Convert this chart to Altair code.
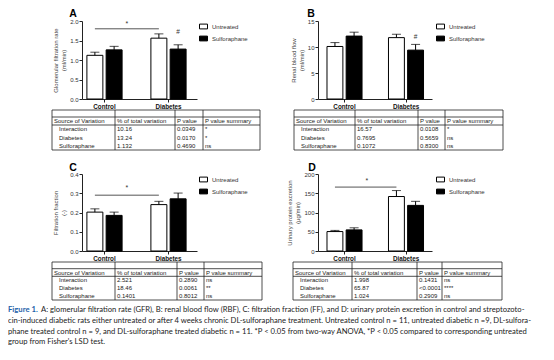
import altair as alt
import pandas as pd

# ---------------- data ----------------
groups = ["Control", "Diabetes"]
treatments = ["Untreated", "Sulforaphane"]

# order: Control-Untreated, Control-Sulforaphane, Diabetes-Untreated, Diabetes-Sulforaphane
gfr_mean = [1.12, 1.26, 1.56, 1.28]
gfr_sem = [0.08, 0.09, 0.11, 0.11]
rbf_mean = [10.1, 12.1, 11.8, 9.4]
rbf_sem = [0.75, 0.75, 0.65, 1.1]
ff_mean = [0.202, 0.185, 0.241, 0.271]
ff_sem = [0.017, 0.017, 0.017, 0.030]
upe_mean = [50.5, 54.8, 141.5, 118.5]
upe_sem = [3.0, 5.5, 15.5, 10.5]

headers = ["Source of Variation", "% of total variation", "P value", "P value summary"]
sources = ["Interaction", "Diabetes", "Sulforaphane"]
a_pct = ["10.16", "13.24", "1.132"]
a_p = ["0.0349", "0.0170", "0.4690"]
a_sum = ["*", "*", "ns"]
b_pct = ["16.57", "0.7695", "0.1072"]
b_p = ["0.0108", "0.5659", "0.8300"]
b_sum = ["*", "ns", "ns"]
c_pct = ["2.521", "18.46", "0.1401"]
c_p = ["0.2890", "0.0061", "0.8012"]
c_sum = ["ns", "**", "ns"]
d_pct = ["1.998", "65.87", "1.024"]
d_p = ["0.1431", "<0.0001", "0.2909"]
d_sum = ["ns", "****", "ns"]

caption_lines = [
    "A: glomerular filtration rate (GFR), B: renal blood flow (RBF), C: filtration fraction (FF), and D: urinary protein excretion in control and streptozoto-",
    "cin-induced diabetic rats either untreated or after 4 weeks chronic DL-sulforaphane treatment. Untreated control n = 11, untreated diabetic n =9, DL-sulfora-",
    "phane treated control n = 9, and DL-sulforaphane treated diabetic n = 11. *P < 0.05 from two-way ANOVA, *P < 0.05 compared to corresponding untreated",
    "group from Fisher's LSD test.",
]

# ---------------- layout ----------------
W, H = 538, 344
M = 8
FONT = "Liberation Sans"
CAPFONT = "Lato"


def P(v):
    return v - M


LAY_AC = dict(x0=82, x1=197, pI=0.45, pO=0.1234, al=0.31)
LAY_BD = dict(x0=318, x1=432, pI=0.43, pO=0.142, al=0.515)
ROW1 = dict(yt=21, yb=99)
ROW2 = dict(yt=174, yb=251)


def make_df(means, sems):
    rows = []
    i = 0
    for g in groups:
        for t in treatments:
            rows.append({"group": g, "treat": t, "mean": means[i], "upper": means[i] + sems[i]})
            i += 1
    return pd.DataFrame(rows)


def panel(means, sems, ytitle, ydomain, yticks, yfmt, lx, ly, legxy,
          sig=None, star=None, hash_y=None):
    df = make_df(means, sems)
    xsc = alt.Scale(domain=groups, range=[P(lx["x0"]), P(lx["x1"])],
                    paddingInner=lx["pI"], paddingOuter=lx["pO"], align=lx["al"])
    ysc = alt.Scale(domain=ydomain, range=[P(ly["yb"]), P(ly["yt"])], nice=False, zero=True)
    xax = alt.Axis(orient="bottom", offset=P(ly["yb"]) - H, title=None, labelAngle=0,
                   labelFontWeight="bold", labelFontSize=6.3, labelColor="#111",
                   labelFont=FONT, tickSize=3, labelPadding=1, domainColor="#222",
                   tickColor="#222", grid=False)
    yax = alt.Axis(orient="left", offset=-P(lx["x0"]), title=ytitle, values=yticks,
                   format=yfmt, labelFontSize=6, labelColor="#333", labelFont=FONT,
                   titleFont=FONT, titleFontSize=6, titleFontWeight="normal",
                   titleColor="#444", titlePadding=3, labelPadding=1, tickSize=3,
                   domainColor="#222", tickColor="#222", grid=False)
    X = alt.X("group:N", scale=xsc, sort=groups, axis=xax)
    XO = alt.XOffset("treat:N", sort=treatments,
                     scale=alt.Scale(domain=treatments, paddingInner=0.17, paddingOuter=0))
    base = alt.Chart(df)
    bars = base.mark_bar(stroke="black", strokeWidth=1).encode(
        x=X, xOffset=XO,
        y=alt.Y("mean:Q", scale=ysc, axis=yax),
        fill=alt.Fill("treat:N", sort=treatments,
                      scale=alt.Scale(domain=treatments, range=["white", "black"]),
                      legend=alt.Legend(orient="none", legendX=P(legxy[0]), legendY=P(legxy[1]),
                                        title=None, symbolType="M-1,-0.6H1V0.6H-1Z",
                                        symbolSize=64, symbolStrokeColor="black",
                                        symbolStrokeWidth=1, labelFont=FONT,
                                        labelFontSize=6, labelColor="#333",
                                        rowPadding=3, labelOffset=4)),
    )
    err = base.mark_rule(color="black", strokeWidth=1).encode(
        x=X, xOffset=XO, y=alt.Y("mean:Q", scale=ysc, axis=yax), y2="upper:Q")
    cap = base.mark_tick(orient="horizontal", color="black", size=9, thickness=1).encode(
        x=X, xOffset=XO, y=alt.Y("upper:Q", scale=ysc, axis=yax))
    layers = [bars, err, cap]
    if sig is not None:
        sdf = pd.DataFrame({"group": groups, "treat": ["Untreated", "Untreated"],
                            "y": [sig, sig]})
        layers.append(alt.Chart(sdf).mark_line(color="#555", strokeWidth=1).encode(
            x=X, xOffset=XO, y=alt.Y("y:Q", scale=ysc, axis=yax)))
        tdf = pd.DataFrame({"group": ["Control"], "treat": ["Untreated"], "y": [star], "s": ["*"]})
        layers.append(alt.Chart(tdf).mark_text(font=FONT, fontSize=7, color="#333", dx=32).encode(
            x=X, xOffset=XO, y=alt.Y("y:Q", scale=ysc, axis=yax), text="s:N"))
    if hash_y is not None:
        hdf = pd.DataFrame({"group": ["Diabetes"], "treat": ["Sulforaphane"], "y": [hash_y], "s": ["#"]})
        layers.append(alt.Chart(hdf).mark_text(font=FONT, fontSize=6.5, color="#333").encode(
            x=X, xOffset=XO, y=alt.Y("y:Q", scale=ysc, axis=yax), text="s:N"))
    return alt.layer(*layers)


def table(edges, rows_px, pct, pv, summ):
    xs = alt.Scale(domain=[0, 1, 2, 3, 4], range=[P(e) for e in edges], zero=False, nice=False)
    ys = alt.Scale(domain=[0, 1, 2, 3, 4, 5], range=[P(r) for r in rows_px], zero=False, nice=False)
    lines = []
    for i in range(5):
        lines.append({"x": i, "x2": i, "y": 0, "y2": 5})
    for j in [0, 1, 2, 5]:
        lines.append({"x": 0, "x2": 4, "y": j, "y2": j})
    ldf = pd.DataFrame(lines)
    grid = alt.Chart(ldf).mark_rule(color="#222", strokeWidth=0.8).encode(
        x=alt.X("x:Q", scale=xs, axis=None), x2="x2:Q",
        y=alt.Y("y:Q", scale=ys, axis=None), y2="y2:Q")
    cells = []
    for c, h in enumerate(headers):
        cells.append({"col": c, "row": 1.5, "t": h})
    cols = [pct, pv, summ]
    for r in range(3):
        for c in range(3):
            cells.append({"col": c + 1, "row": r + 2.5, "t": cols[c][r]})
    cdf = pd.DataFrame(cells)
    txt = alt.Chart(cdf).mark_text(font=FONT, fontSize=6, color="#222", align="left",
                                   baseline="middle", dx=2).encode(
        x=alt.X("col:Q", scale=xs, axis=None), y=alt.Y("row:Q", scale=ys, axis=None), text="t:N")
    sdf = pd.DataFrame({"col": [0, 0, 0], "row": [2.5, 3.5, 4.5], "t": sources})
    src = alt.Chart(sdf).mark_text(font=FONT, fontSize=6, color="#222", align="left",
                                   baseline="middle", dx=7).encode(
        x=alt.X("col:Q", scale=xs, axis=None), y=alt.Y("row:Q", scale=ys, axis=None), text="t:N")
    return alt.layer(grid, txt, src)


pA = panel(gfr_mean, gfr_sem, ["Glomerular filtration rate", "(ml/min)"], [0, 2],
           [0, 0.5, 1.0, 1.5, 2.0], ".1f", LAY_AC, ROW1, (199, 22), sig=1.8, star=1.93, hash_y=1.72)
pB = panel(rbf_mean, rbf_sem, ["Renal blood flow", "(ml/min)"], [0, 15],
           [0, 5, 10, 15], "d", LAY_BD, ROW1, (436, 22), hash_y=11.9)
pC = panel(ff_mean, ff_sem, ["Filtration fraction", "(-)"], [0, 0.4],
           [0, 0.1, 0.2, 0.3, 0.4], ".1f", LAY_AC, ROW2, (199, 175), sig=0.29, star=0.325)
pD = panel(upe_mean, upe_sem, ["Urinary protein excretion", "(\u00b5g/min)"], [0, 200],
           [0, 50, 100, 150, 200], "d", LAY_BD, ROW2, (436, 175), sig=166, star=183)

rows_top = [110, 117, 125, 133.3, 141.7, 150]
rows_bot = [262, 268.7, 276.3, 284.2, 292.1, 300]
tA = table([52, 115, 175, 203, 260], rows_top, a_pct, a_p, a_sum)
tB = table([294, 355, 418, 445, 503], rows_top, b_pct, b_p, b_sum)
tC = table([52, 115, 177, 204, 262], rows_bot, c_pct, c_p, c_sum)
tD = table([293, 352, 417, 442, 502], rows_bot, d_pct, d_p, d_sum)

one = pd.DataFrame({"a": [0]})
letters = []
for t, x, y in [("A", 73, 17), ("B", 311, 17), ("C", 73, 171), ("D", 312, 171)]:
    letters.append(alt.Chart(one).mark_text(text=t, font=FONT, fontSize=10.5, fontWeight="bold",
                                            color="black", align="center", baseline="alphabetic").encode(
        x=alt.value(P(x)), y=alt.value(P(y))))

caps = []
cap_y = [310, 321, 331.5, 342]
caps.append(alt.Chart(one).mark_text(text="Figure 1.", font=CAPFONT, fontSize=7.7, fontWeight="bold",
                                     color="#1d5fa8", align="left", baseline="middle").encode(
    x=alt.value(0), y=alt.value(P(cap_y[0]))))
for i, line in enumerate(caption_lines):
    caps.append(alt.Chart(one).mark_text(text=line, font=CAPFONT, fontSize=7.65, color="#222",
                                         align="left", baseline="middle").encode(
        x=alt.value(P(41) if i == 0 else 0), y=alt.value(P(cap_y[i]))))

chart = alt.layer(pA, pB, pC, pD, tA, tB, tC, tD, *letters, *caps).resolve_scale(
    x="independent", y="independent", xOffset="independent", fill="independent"
).resolve_axis(x="independent", y="independent").resolve_legend(fill="independent").properties(
    width=W, height=H, padding=0, autosize=alt.AutoSizeParams(type="none"), background="white"
).configure_view(stroke=None)

chart.save("out.html", embed_options={"renderer": "svg", "actions": False})
